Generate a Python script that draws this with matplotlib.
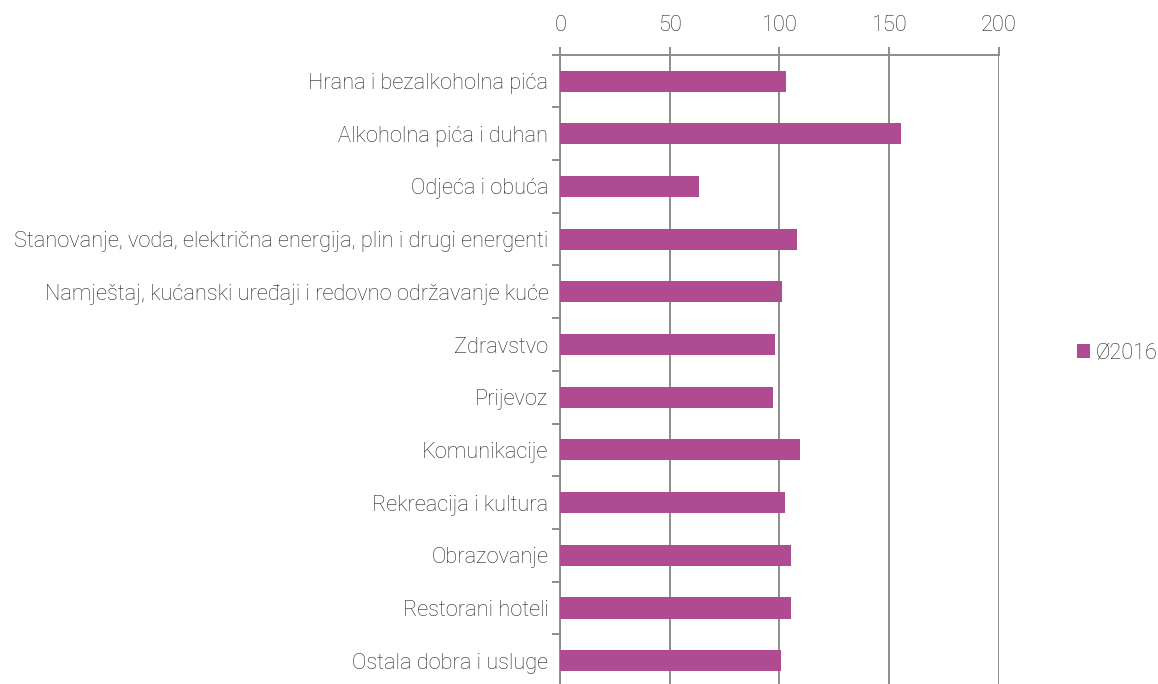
import matplotlib
matplotlib.use("Agg")
import matplotlib.pyplot as plt
from matplotlib.patches import Patch
import numpy as np

plt.rcParams['font.family'] = ['Roboto', 'DejaVu Sans']

categories = [
    "Hrana i bezalkoholna pića",
    "Alkoholna pića i duhan",
    "Odjeća i obuća",
    "Stanovanje, voda, električna energija, plin i drugi energenti",
    "Namještaj, kućanski uređaji i redovno održavanje kuće",
    "Zdravstvo",
    "Prijevoz",
    "Komunikacije",
    "Rekreacija i kultura",
    "Obrazovanje",
    "Restorani hoteli",
    "Ostala dobra i usluge",
]
values = [102.9, 155.7, 63.5, 108.1, 101.1, 98.2, 97.3, 109.5, 102.6, 105.5, 105.2, 100.8]
series_name = "Ø2016"
xticks = [0, 50, 100, 150, 200]

W, H = 1158, 684
fig = plt.figure(figsize=(W / 100, H / 100), dpi=100)
left, right = 560.3 / W, 998.5 / W
top_px, bot_px = 54.7, 687.0
ax = fig.add_axes([left, 1 - bot_px / H, right - left, (bot_px - top_px) / H])

color = "#AE4B91"
y = np.arange(len(categories))
ax.barh(y, values, height=0.4, color=color, zorder=3)
ax.set_ylim(len(categories) - 0.5, -0.5)
ax.set_xlim(0, 200)

fs = 15.7
textc = "#262626"
gridc = "#8C8C8C"
ax.xaxis.tick_top()
ax.set_xticks(xticks)
ax.set_xticklabels([str(t) for t in xticks], fontsize=fs, color=textc, fontweight='light')
ax.tick_params(axis='x', direction='out', length=5.5, width=1.4, color=gridc, pad=8.3)
ax.grid(axis='x', color=gridc, linewidth=1.4, zorder=0)

ax.set_yticks(y)
ax.set_yticklabels(categories, fontsize=fs, color=textc, fontweight='light')
ax.tick_params(axis='y', which='major', length=0, pad=8.5)
ax.set_yticks(np.arange(len(categories) + 1) - 0.5, minor=True)
ax.tick_params(axis='y', which='minor', direction='out', length=5.5, width=1.4, color=gridc)

for s in ['right', 'bottom']:
    ax.spines[s].set_visible(False)
for s in ['top', 'left']:
    ax.spines[s].set_color(gridc)
    ax.spines[s].set_linewidth(1.4)

handles = [Patch(facecolor=color, edgecolor='none', label=series_name)]
fig.legend(handles=handles, loc='center left', bbox_to_anchor=(1077 / W, 1 - 353 / H),
           frameon=False, handlelength=0.62, handleheight=0.62,
           handletextpad=0.25, borderaxespad=0, borderpad=0,
           prop={'weight': 'light', 'size': 15.6}, labelcolor=textc)

fig.savefig("out.png", dpi=100)
